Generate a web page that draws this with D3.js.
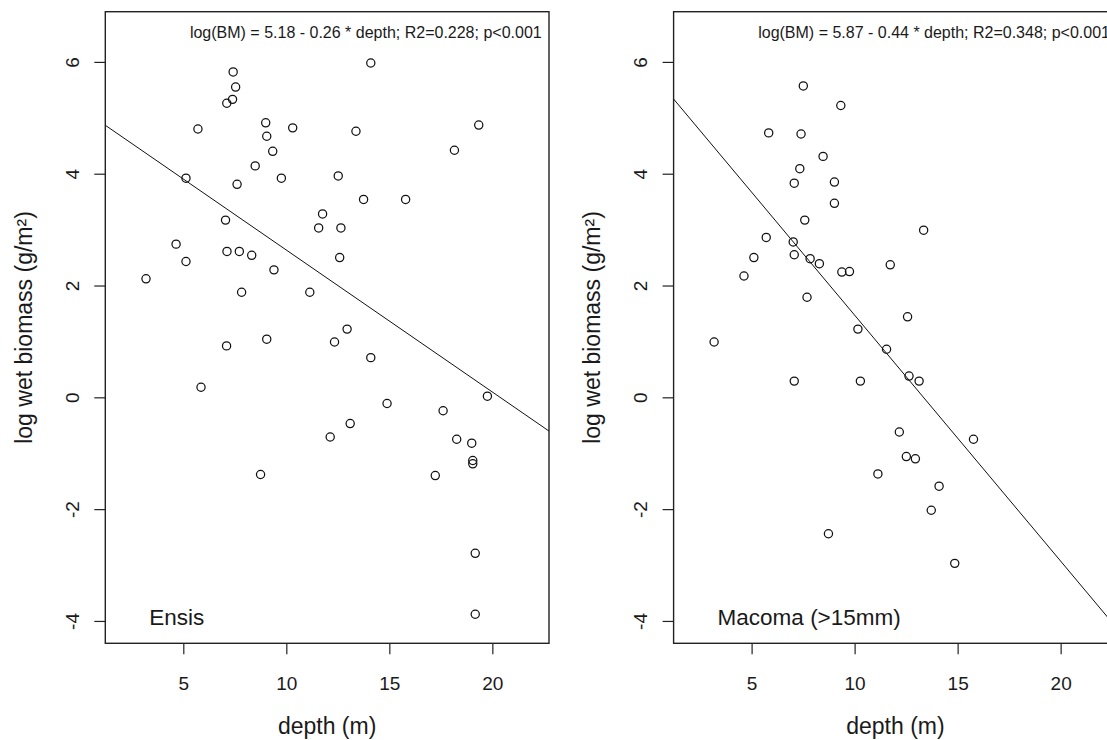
<!DOCTYPE html>
<html>
<head>
<meta charset="utf-8">
<script src="https://d3js.org/d3.v7.min.js"></script>
<style>
  body { margin: 0; background: #fff; }
  svg { display: block; overflow: hidden; }
  text { font-family: "Liberation Sans", Arial, sans-serif; fill: #1a1a1a; }
</style>
</head>
<body>
<script>
// data
var ensisDepth = [14.10, 7.42, 7.54, 7.39, 7.11, 5.71, 9.00, 10.31, 13.38, 19.34, 9.05, 9.34, 18.16, 8.49,
                  5.13, 9.76, 12.52, 7.61, 13.75, 15.79, 11.76, 7.05, 11.57, 12.65, 4.65, 7.12, 7.72, 8.32,
                  5.13, 12.59, 9.40, 3.19, 7.83, 11.14, 12.95, 12.34, 7.10, 9.05, 14.10, 5.86, 19.76, 14.89,
                  17.61, 13.10, 12.13, 18.27, 19.00, 19.05, 19.05, 8.75, 17.23, 19.17, 19.17];
var ensisBiomass = [5.98, 5.82, 5.55, 5.33, 5.26, 4.80, 4.91, 4.82, 4.76, 4.87, 4.67, 4.40, 4.42, 4.14,
                    3.92, 3.92, 3.96, 3.81, 3.54, 3.54, 3.28, 3.17, 3.03, 3.03, 2.74, 2.61, 2.61, 2.54,
                    2.43, 2.50, 2.28, 2.12, 1.88, 1.88, 1.22, 0.99, 0.92, 1.04, 0.71, 0.18, 0.02, -0.11,
                    -0.24, -0.47, -0.71, -0.75, -0.82, -1.13, -1.19, -1.38, -1.40, -2.79, -3.88];

var macomaDepth = [7.51, 9.33, 5.83, 7.40, 8.47, 7.34, 9.02, 7.07, 9.02, 7.58, 13.35, 5.71, 7.02, 7.07,
                   5.11, 7.84, 8.29, 9.38, 9.75, 11.73, 4.63, 7.69, 12.57, 10.16, 3.18, 11.55, 12.64, 13.13,
                   7.07, 10.28, 12.17, 15.77, 12.51, 12.95, 11.13, 14.10, 13.72, 8.73, 14.86];
var macomaBiomass = [5.57, 5.22, 4.73, 4.71, 4.31, 4.09, 3.85, 3.83, 3.47, 3.17, 2.99, 2.86, 2.78, 2.55,
                     2.50, 2.48, 2.39, 2.24, 2.25, 2.37, 2.17, 1.79, 1.44, 1.22, 0.99, 0.86, 0.38, 0.29,
                     0.29, 0.29, -0.62, -0.75, -1.06, -1.10, -1.37, -1.59, -2.02, -2.44, -2.97];

// fitted lines: [intercept, slope]
var ensisFit = [5.175, -0.254];
var macomaFit = [5.87, -0.44];

var equations = ["log(BM) = 5.18 - 0.26 * depth; R2=0.228; p<0.001",
                 "log(BM) = 5.87 - 0.44 * depth; R2=0.348; p<0.001"];
var panelNames = ["Ensis", "Macoma (>15mm)"];

var xTicks = [5, 10, 15, 20],
    yTicks = [-4, -2, 0, 2, 4, 6];

var svgWidth = 1107,
    svgHeight = 740,
    plotWidth = 443.7,
    plotTop = 11.7,
    plotBottom = 643.3,
    panelLeft = [105.3, 673.6],
    tickLen = 11;

var x = d3.scaleLinear().domain([1.214, 22.75]).range([0, plotWidth]);
var y = d3.scaleLinear().domain([-4.40, 6.898]).range([plotBottom, plotTop]);

// R prints a plain hyphen for negatives
var plain = function(d) { return String(d); };

var svg = d3.select("body")
            .append("svg")
                .attr("width", svgWidth)
                .attr("height", svgHeight);

function drawPanel(i, depth, biomass, fit) {
    var g = svg.append("g")
                .attr("transform", "translate(" + panelLeft[i] + ",0)");

    g.append("clipPath").attr("id", "clip" + i)
        .append("rect")
            .attr("x", 0)
            .attr("y", plotTop)
            .attr("width", plotWidth)
            .attr("height", plotBottom - plotTop);

    // x axis
    var xAxis = g.append("g")
                    .attr("transform", "translate(0," + plotBottom + ")")
                    .call(d3.axisBottom(x).tickValues(xTicks).tickFormat(plain)
                            .tickSize(tickLen).tickSizeOuter(0).tickPadding(22));
    xAxis.select(".domain").remove();
    xAxis.selectAll("line").attr("stroke", "#222").attr("stroke-width", 1.2);
    xAxis.selectAll("text")
            .style("font-size", "19px")
            .style("font-family", "Liberation Sans, Arial, sans-serif")
            .attr("fill", "#222");

    // y axis, labels turned like R does
    var yAxis = g.append("g")
                    .call(d3.axisLeft(y).tickValues(yTicks).tickFormat(plain)
                            .tickSize(tickLen).tickSizeOuter(0));
    yAxis.select(".domain").remove();
    yAxis.selectAll("line").attr("stroke", "#222").attr("stroke-width", 1.2);
    yAxis.selectAll("text")
            .attr("x", null)
            .attr("text-anchor", "middle")
            .attr("transform", "translate(-33,0) rotate(-90)")
            .attr("dy", "0.35em")
            .style("font-size", "19px")
            .style("font-family", "Liberation Sans, Arial, sans-serif")
            .attr("fill", "#222");

    // box
    g.append("rect")
        .attr("x", 0)
        .attr("y", plotTop)
        .attr("width", plotWidth)
        .attr("height", plotBottom - plotTop)
        .attr("fill", "none")
        .attr("stroke", "#222")
        .attr("stroke-width", 1.4);

    // regression line
    var xd = x.domain();
    g.append("line")
        .attr("clip-path", "url(#clip" + i + ")")
        .attr("x1", x(xd[0]))
        .attr("y1", y(fit[0] + fit[1] * xd[0]))
        .attr("x2", x(xd[1]))
        .attr("y2", y(fit[0] + fit[1] * xd[1]))
        .attr("stroke", "#111")
        .attr("stroke-width", 1);

    g.append("g")
        .selectAll("circle")
            .data(depth)
                .enter()
                    .append("circle")
                        .attr("cx", function(d) { return x(d); })
                        .attr("cy", function(d, j) { return y(biomass[j]); })
                        .attr("r", 4.1)
                        .attr("fill", "none")
                        .attr("stroke", "#111")
                        .attr("stroke-width", 1.25);

    g.append("text")
        .attr("x", plotWidth - 7.3)
        .attr("y", 37.5)
        .attr("text-anchor", "end")
        .style("font-size", "16px")
        .text(equations[i]);

    g.append("text")
        .attr("x", 44)
        .attr("y", 624.5)
        .style("font-size", "22.5px")
        .text(panelNames[i]);

    g.append("text")
        .attr("x", plotWidth / 2)
        .attr("y", 734)
        .attr("text-anchor", "middle")
        .style("font-size", "23px")
        .text("depth (m)");

    g.append("text")
        .attr("transform", "translate(-73.5," + ((plotTop + plotBottom) / 2) + ") rotate(-90)")
        .attr("text-anchor", "middle")
        .style("font-size", "23px")
        .text("log wet biomass (g/m²)");
}

drawPanel(0, ensisDepth, ensisBiomass, ensisFit);
drawPanel(1, macomaDepth, macomaBiomass, macomaFit);
</script>
</body>
</html>
